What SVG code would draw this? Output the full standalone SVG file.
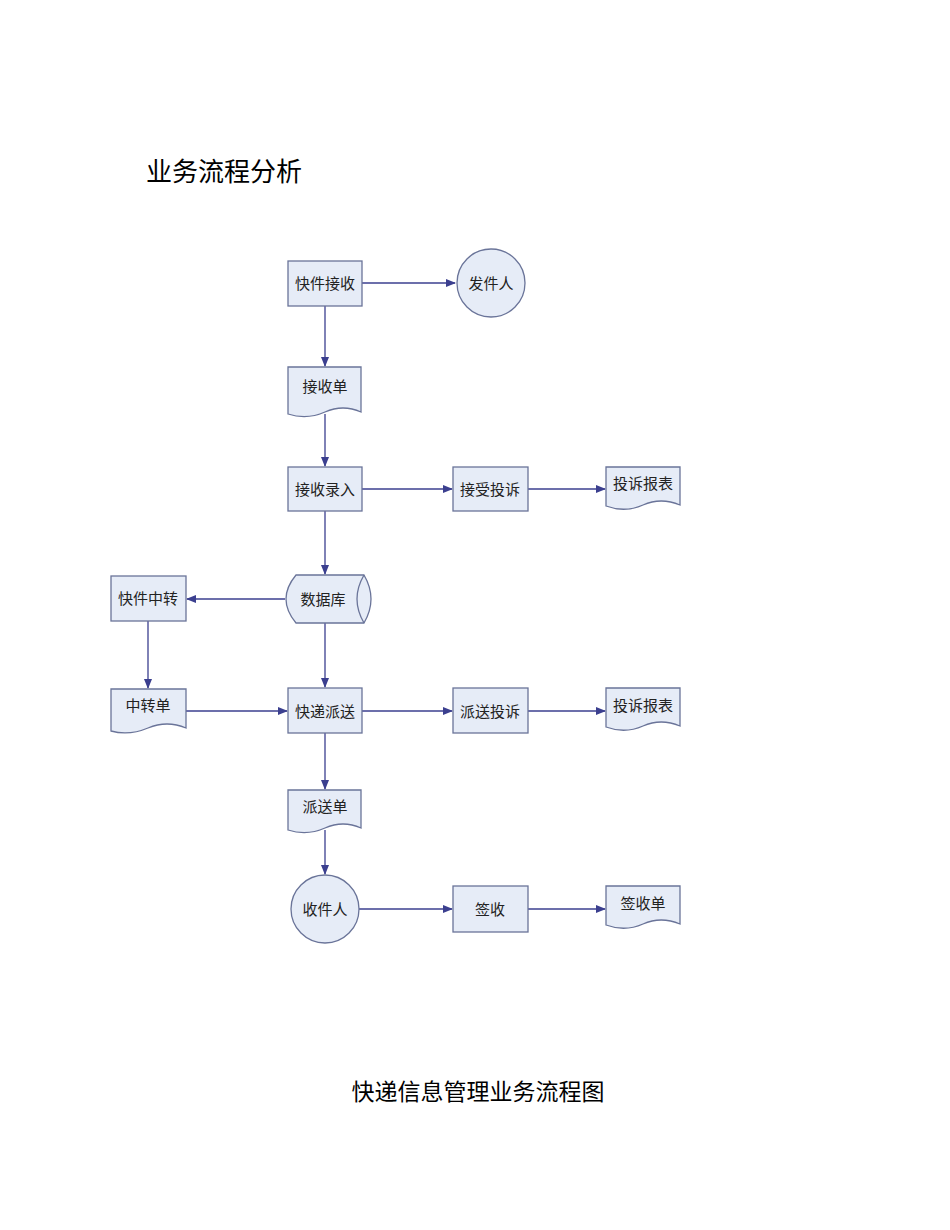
<svg xmlns="http://www.w3.org/2000/svg" width="950" height="1230" viewBox="0 0 950 1230">
<defs>
<marker id="ah" markerWidth="10" markerHeight="8" refX="9" refY="4" orient="auto" markerUnits="userSpaceOnUse"><path d="M0,0 L10,4 L0,8 Z" fill="#3b3f8f"/></marker>
<style>
.n{fill:#e6ecf7;stroke:#6a7499;stroke-width:1.3}
.t{font-family:"Liberation Sans","Noto Sans CJK SC",sans-serif;font-size:15px;fill:#222;text-anchor:middle;dominant-baseline:central}
.c{stroke:#3b3f8f;stroke-width:1.3;fill:none;marker-end:url(#ah)}
.h{font-family:"Liberation Serif","Noto Sans CJK SC",serif;fill:#000}
</style>
</defs>
<rect width="950" height="1230" fill="#fff"/>
<text class="h" x="146" y="181" font-size="26">业务流程分析</text>
<text class="h" x="478" y="1100" font-size="23" text-anchor="middle">快递信息管理业务流程图</text>
<g id="connectors">
<path class="c" d="M362,283 H455"/>
<path class="c" d="M325,306 V366"/>
<path class="c" d="M325,414 V466"/>
<path class="c" d="M362,489 H452"/>
<path class="c" d="M528,489 H605"/>
<path class="c" d="M325,511 V574"/>
<path class="c" d="M285,599 H187"/>
<path class="c" d="M148,621 V688"/>
<path class="c" d="M186,711 H287"/>
<path class="c" d="M325,623 V687"/>
<path class="c" d="M362,711 H452"/>
<path class="c" d="M528,711 H605"/>
<path class="c" d="M325,733 V789"/>
<path class="c" d="M325,830 V874"/>
<path class="c" d="M359,909 H452"/>
<path class="c" d="M528,909 H605"/>
</g>
<g id="n1"><rect class="n" x="288" y="261" width="74" height="45"/><text class="t" x="325" y="283">快件接收</text></g>
<g id="n2"><circle class="n" cx="491" cy="283" r="34"/><text class="t" x="491" y="283">发件人</text></g>
<g id="n3"><path class="n" d="M288,367 H361 V412 Q343,404 325,412 T288,414 Z"/><text class="t" x="325" y="386">接收单</text></g>
<g id="n4"><rect class="n" x="288" y="467" width="74" height="44"/><text class="t" x="325" y="489">接收录入</text></g>
<g id="n5"><rect class="n" x="453" y="467" width="75" height="44"/><text class="t" x="490" y="489">接受投诉</text></g>
<g id="n6"><path class="n" d="M606,467 H680 V505 Q661,497 643,505 T606,506 Z"/><text class="t" x="643" y="483">投诉报表</text></g>
<g id="n7"><path class="n" d="M296,575 H364 Q371,587 371,599 Q371,611 364,623 H296 Q286,611 286,599 Q286,587 296,575 Z"/><path d="M364,575 Q357,587 357,599 Q357,611 364,623" fill="none" stroke="#6a7499" stroke-width="1.3"/><text class="t" x="323" y="599">数据库</text></g>
<g id="n8"><rect class="n" x="111" y="576" width="75" height="45"/><text class="t" x="148" y="598">快件中转</text></g>
<g id="n9"><path class="n" d="M111,689 H186 V728 Q167,720 148,728 T111,731 Z"/><text class="t" x="148" y="705">中转单</text></g>
<g id="n10"><rect class="n" x="288" y="688" width="74" height="45"/><text class="t" x="325" y="711">快递派送</text></g>
<g id="n11"><rect class="n" x="453" y="688" width="75" height="45"/><text class="t" x="490" y="711">派送投诉</text></g>
<g id="n12"><path class="n" d="M606,688 H680 V726 Q661,718 643,726 T606,727 Z"/><text class="t" x="643" y="705">投诉报表</text></g>
<g id="n13"><path class="n" d="M288,790 H361 V828 Q343,820 325,828 T288,830 Z"/><text class="t" x="325" y="806">派送单</text></g>
<g id="n14"><circle class="n" cx="325" cy="909" r="34"/><text class="t" x="325" y="909">收件人</text></g>
<g id="n15"><rect class="n" x="453" y="886" width="75" height="46"/><text class="t" x="490" y="909">签收</text></g>
<g id="n16"><path class="n" d="M606,886 H680 V924 Q661,916 643,924 T606,925 Z"/><text class="t" x="643" y="903">签收单</text></g>
</svg>
